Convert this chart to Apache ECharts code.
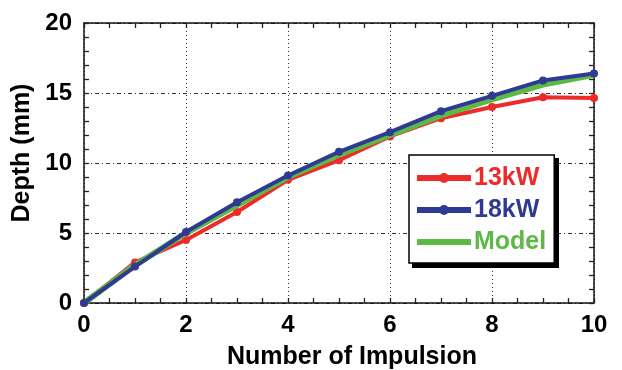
<!DOCTYPE html>
<html>
<head>
<meta charset="utf-8">
<script src="https://cdn.jsdelivr.net/npm/echarts@6/dist/echarts.min.js"></script>
<style>html,body{margin:0;padding:0;background:#fff;}#c{width:622px;height:370px;}</style>
</head>
<body>
<div id="c"></div>
<script>
var impulses = [0, 1, 2, 3, 4, 5, 6, 7, 8, 9, 10];
var depth13kW = [0, 2.9, 4.5, 6.5, 8.8, 10.2, 11.9, 13.2, 14.0, 14.7, 14.65];
var depth18kW = [0, 2.6, 5.07, 7.2, 9.1, 10.8, 12.2, 13.7, 14.8, 15.9, 16.4];
var depthModel = [0, 2.7, 5.0, 7.0, 9.0, 10.6, 12.0, 13.4, 14.55, 15.6, 16.3];
var seriesNames = ['13kW', '18kW', 'Model'];
var xTicks = [0, 2, 4, 6, 8, 10];
var yTicks = [0, 5, 10, 15, 20];

var colors = ['#ee2b2b', '#2e3a94', '#5cb946'];
var font = '"Liberation Sans", Arial, sans-serif';
var xMin = xTicks[0], xMax = xTicks[xTicks.length - 1];
var yMin = yTicks[0], yMax = yTicks[yTicks.length - 1];

function pairs(ys) { return impulses.map(function (x, i) { return [x, ys[i]]; }); }

var chart = echarts.init(document.getElementById('c'), null, { renderer: 'canvas' });

function tickStyle() { return { show: true, inside: true, length: 5, lineStyle: { color: '#222', width: 1.3 } }; }
function axisLineStyle() { return { show: true, onZero: false, lineStyle: { color: '#111', width: 1.5 } }; }
var labelStyle = { color: '#000', fontFamily: font, fontWeight: 'bold', fontSize: 24 };

function isMajor(v, list) {
  for (var i = 0; i < list.length; i++) if (Math.abs(list[i] - v) < 1e-6) return true;
  return false;
}

var xAxes = [
  {
    type: 'value', position: 'bottom', min: xMin, max: xMax, interval: 0.5,
    axisLine: axisLineStyle(), axisTick: tickStyle(),
    axisLabel: Object.assign({ margin: 10, formatter: function (v) { return isMajor(v, xTicks) ? String(v) : ''; } }, labelStyle),
    splitLine: { show: false },
    name: 'Number of Impulsion', nameLocation: 'middle', nameGap: 42,
    nameTextStyle: { color: '#000', fontFamily: font, fontWeight: 'bold', fontSize: 25, padding: [0, 0, 0, 26] }
  },
  {
    type: 'value', position: 'top', min: xMin, max: xMax, interval: 0.5,
    axisLine: axisLineStyle(), axisTick: tickStyle(), axisLabel: { show: false }, splitLine: { show: false }
  },
  {
    type: 'value', position: 'top', min: xMin, max: xMax, interval: 2,
    axisLine: { show: false }, axisTick: { show: false }, axisLabel: { show: false },
    splitLine: { show: true, lineStyle: { color: '#333', width: 1, type: [1, 3] } }
  }
];
var yAxes = [
  {
    type: 'value', position: 'left', min: yMin, max: yMax, interval: 1,
    axisLine: axisLineStyle(), axisTick: tickStyle(),
    axisLabel: Object.assign({ margin: 12, formatter: function (v) { return isMajor(v, yTicks) ? String(v) : ''; } }, labelStyle),
    splitLine: { show: false },
    name: 'Depth (mm)', nameLocation: 'middle', nameGap: 37,
    nameTextStyle: { color: '#000', fontFamily: font, fontWeight: 'bold', fontSize: 25, padding: [0, 0, 0, 20] }
  },
  {
    type: 'value', position: 'right', min: yMin, max: yMax, interval: 1,
    axisLine: axisLineStyle(), axisTick: tickStyle(), axisLabel: { show: false }, splitLine: { show: false }
  },
  {
    type: 'value', position: 'right', min: yMin, max: yMax, interval: 5,
    axisLine: { show: false }, axisTick: { show: false }, axisLabel: { show: false },
    splitLine: { show: true, lineStyle: { color: '#333', width: 1, type: [4, 3, 1, 3] } }
  }
];

var lineIcon = 'path://M0,2H54V8H0Z M22,5A5,5 0 1,1 32,5A5,5 0 1,1 22,5Z';
var plainIcon = 'path://M0,0H54V6H0Z';

chart.setOption({
  animation: false,
  backgroundColor: '#fff',
  grid: { left: 84, right: 28, top: 23, bottom: 67, containLabel: false, outerBoundsMode: 'none' },
  xAxis: xAxes,
  yAxis: yAxes,
  graphic: [{ type: 'rect', left: 412, top: 158, shape: { width: 147, height: 110 }, style: { fill: '#000' }, z: 3 }],
  legend: {
    orient: 'vertical', left: 409, top: 155, padding: [10, 8, 8, 8], itemGap: 6,
    itemWidth: 54, itemHeight: 10, symbolKeepAspect: true,
    backgroundColor: '#fff', borderColor: '#000', borderWidth: 1.5, z: 5,
    textStyle: { fontFamily: font, fontWeight: 'bold', fontSize: 25, lineHeight: 26, padding: [0, 0, 0, -2] },
    data: seriesNames.map(function (n, i) {
      return { name: n, icon: i < 2 ? lineIcon : plainIcon, itemStyle: { color: colors[i] }, textStyle: { color: colors[i] } };
    })
  },
  series: [
    { name: seriesNames[0], type: 'line', xAxisIndex: 0, yAxisIndex: 0, data: pairs(depth13kW), color: colors[0], z: 2,
      lineStyle: { width: 4 }, symbol: 'circle', symbolSize: 8, itemStyle: { color: colors[0] } },
    { name: seriesNames[2], type: 'line', xAxisIndex: 0, yAxisIndex: 0, data: pairs(depthModel), color: colors[2], z: 3,
      lineStyle: { width: 6 }, symbol: 'none', showSymbol: false, itemStyle: { color: colors[2] } },
    { name: seriesNames[1], type: 'line', xAxisIndex: 0, yAxisIndex: 0, data: pairs(depth18kW), color: colors[1], z: 4,
      lineStyle: { width: 4 }, symbol: 'circle', symbolSize: 8, itemStyle: { color: colors[1] } }
  ]
});
</script>
</body>
</html>
